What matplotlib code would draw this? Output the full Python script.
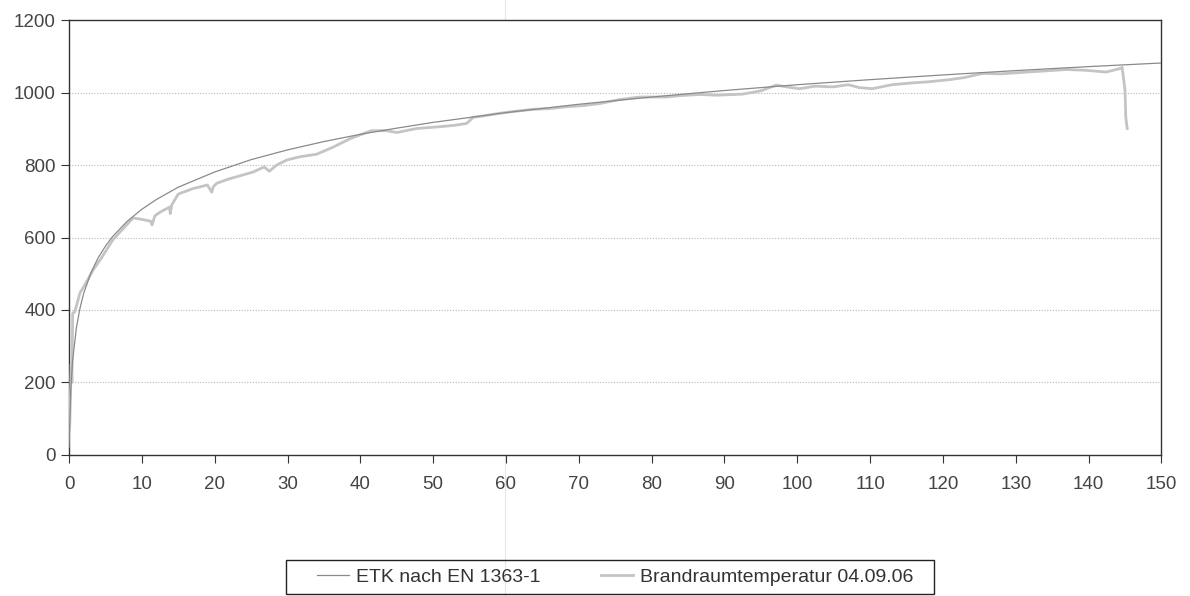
import matplotlib
matplotlib.use("Agg")
from matplotlib import pyplot as plt
from matplotlib.lines import Line2D
from matplotlib.patches import Rectangle

plt.rcParams['font.family'] = ['Liberation Sans', 'DejaVu Sans']

# ETK nach EN 1363-1
etk_t = [0, 0.25, 0.5, 1, 1.5, 2, 3, 4, 5, 6, 8, 10, 12, 15, 20, 25, 30, 35, 40,
         45, 50, 60, 70, 80, 90, 100, 110, 120, 130, 140, 150]
etk_T = [20, 185, 261, 349, 404, 445, 502, 544, 576, 603, 645, 678, 705, 739, 781,
         815, 842, 865, 885, 902, 918, 945, 968, 988, 1006, 1022, 1036, 1049, 1061,
         1072, 1082]

mes_t = [0, 0.1, 0.3, 0.4, 0.45, 0.5, 0.8, 1.5, 2.2, 3.3, 4.5, 6.0, 7.0, 8.8, 10.0,
         11.2, 11.4, 11.8, 12.5, 13.8, 13.9, 14.1, 15.0, 17.0, 19.0, 19.6, 19.8, 20.3,
         22.0, 25.3, 26.8, 27.5, 28.5, 29.9, 31.7, 34.0, 36.2, 38.6, 41.5, 43.6, 45.0,
         47.7, 50.9, 53.0, 54.6, 55.5, 57.0, 59.1, 61.0, 63.7, 66.0, 68.3, 70.5, 72.9,
         75.6, 78.4, 82.0, 84.0, 86.6, 89.0, 92.5, 95.0, 97.1, 98.5, 100.3, 102.5,
         104.9, 107.0, 108.5, 110.3, 113.0, 115.8, 118.0, 120.9, 123.0, 125.4, 128.0,
         131.5, 134.0, 136.9, 139.5, 142.4, 144.4, 144.6, 145.0, 145.1, 145.3]
mes_T = [70, 80, 250, 200, 300, 390, 395, 447, 470, 510, 545, 593, 615, 654, 650,
         645, 635, 660, 670, 684, 666, 690, 720, 735, 745, 725, 740, 750,
         762, 781, 795, 783, 800, 814, 823, 830, 849, 873, 895, 895, 890,
         901, 906, 910, 915, 932, 936, 943, 948, 954, 956, 961, 964, 970,
         981, 988, 988, 992, 995, 993, 996, 1005, 1021, 1016, 1011, 1018,
         1016, 1022, 1014, 1011, 1022, 1027, 1030, 1036, 1042, 1053, 1052,
         1057, 1060, 1064, 1062, 1057, 1067, 1070, 1007, 933, 901]

fig = plt.figure(figsize=(11.9, 5.96), dpi=100)
ax = fig.add_axes([0.058, 0.237, 0.918, 0.729])

ax.plot(mes_t, mes_T, color='#c4c4c4', lw=2.0, zorder=3)
ax.plot(etk_t, etk_T, color='#8a8a8a', lw=0.9, zorder=4)

ax.set_xlim(0, 150)
ax.set_ylim(0, 1200)
ax.set_xticks(range(0, 151, 10))
ax.set_yticks(range(0, 1201, 200))
ax.yaxis.grid(True, color='#b8b8b8', ls=(0, (1, 1.5)), lw=0.8)
ax.set_axisbelow(True)
for s in ax.spines.values():
    s.set_color('#333333')
    s.set_linewidth(1.0)
ax.tick_params(axis='both', colors='#333333', labelcolor='#444444', labelsize=13.5,
               direction='out', length=6)
ax.tick_params(axis='x', pad=9)

handles = [Line2D([], [], color='#8a8a8a', lw=0.9),
           Line2D([], [], color='#c4c4c4', lw=2.0)]
leg = fig.legend(handles, ['ETK nach EN 1363-1', 'Brandraumtemperatur 04.09.06'],
                 loc='center', bbox_to_anchor=(0.517, 0.032), ncol=2, frameon=False,
                 fontsize=14, handlelength=1.65, columnspacing=3.1,
                 borderpad=0.35, handletextpad=0.35)
for t in leg.get_texts():
    t.set_color('#333333')

# legend frame
fig.add_artist(Rectangle((286 / 1190, 1 - 594 / 596), 648 / 1190, 34 / 596,
                         transform=fig.transFigure, fill=False, ec='#222222', lw=1.0))

# faint scan fold line
fig.add_artist(Line2D([0.4245, 0.4245], [0, 1], color='#e6e6e6', lw=0.8,
                      transform=fig.transFigure, zorder=0))

fig.savefig('out.png', dpi=100)
